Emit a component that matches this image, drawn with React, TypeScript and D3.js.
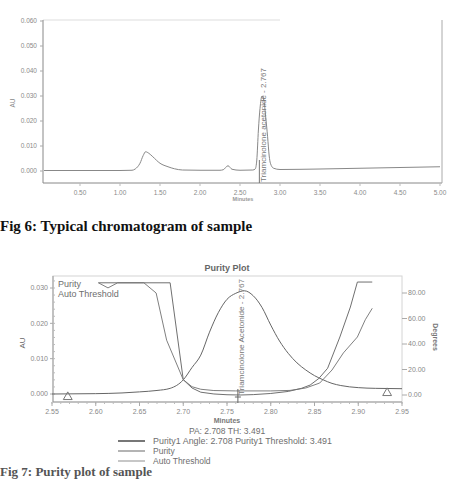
import * as d3 from "d3";

// Fig 6 - chromatogram (minutes vs AU)
const chromTimes = [0.05, 0.5, 1.0, 1.15, 1.19, 1.25, 1.29, 1.32, 1.36, 1.41, 1.5, 1.6, 1.68, 1.78, 2.0, 2.25, 2.29, 2.35, 2.4, 2.5, 2.66, 2.69, 2.71, 2.73, 2.75, 2.775, 2.8, 2.82, 2.845, 2.865, 2.88, 2.92, 3.0, 3.5, 4.0, 4.5, 5.0];
const chromAU = [0.0002, 0.0002, 0.0002, 0.0003, 0.0008, 0.0031, 0.0062, 0.0077, 0.0071, 0.0057, 0.0031, 0.0017, 0.0009, 0.0004, 0.0003, 0.0003, 0.0005, 0.0021, 0.0007, 0.0003, 0.0004, 0.0008, 0.0044, 0.0164, 0.025, 0.03, 0.028, 0.022, 0.0137, 0.006, 0.0031, 0.0011, 0.0006, 0.0008, 0.0011, 0.0014, 0.0017];
const chromYTicks = [0, 0.01, 0.02, 0.03, 0.04, 0.05, 0.06];
const chromXTicks = [0.5, 1.0, 1.5, 2.0, 2.5, 3.0, 3.5, 4.0, 4.5, 5.0];
const peakLabel = "Triamcinolone acetonide - 2.767";
const peakTime = 2.767;

// Fig 7 - purity plot
const purTimes = [2.55, 2.6, 2.63, 2.65, 2.67, 2.685, 2.7, 2.71, 2.72, 2.73, 2.74, 2.75, 2.76, 2.77, 2.78, 2.79, 2.8, 2.81, 2.82, 2.83, 2.84, 2.85, 2.86, 2.87, 2.88, 2.9, 2.92, 2.95];
const purAU = [0, 0.0001, 0.0003, 0.0006, 0.001, 0.0016, 0.004, 0.0075, 0.011, 0.0175, 0.023, 0.0268, 0.0285, 0.0292, 0.0278, 0.0245, 0.0195, 0.015, 0.0115, 0.0088, 0.0068, 0.0052, 0.004, 0.003, 0.0024, 0.0018, 0.0016, 0.0015];
const angleTimes = [2.603, 2.685, 2.7, 2.71, 2.72, 2.735, 2.75, 2.765, 2.78, 2.8, 2.82, 2.835, 2.845, 2.855, 2.865, 2.879, 2.891, 2.899, 2.916];
const angleDeg = [88, 88, 12, 5.5, 2.2, 0.8, 0.2, 0, 0.3, 1.2, 2.8, 5.2, 7.8, 13, 21, 45.5, 69, 88.6, 88.6];
const threshTimes = [2.603, 2.614, 2.625, 2.655, 2.669, 2.681, 2.7, 2.71, 2.72, 2.735, 2.76, 2.8, 2.822, 2.84, 2.856, 2.87, 2.883, 2.899, 2.908, 2.916];
const threshDeg = [88, 84, 88, 88, 80, 43, 12, 6.5, 4.5, 3.5, 3.2, 3.2, 3.6, 5.5, 9.4, 19.6, 33, 45.5, 59, 68];
const purXTicks = [2.55, 2.6, 2.65, 2.7, 2.75, 2.8, 2.85, 2.9, 2.95];
const purAUTicks = [0, 0.01, 0.02, 0.03];
const purDegTicks = [0, 20, 40, 60, 80];
const markerTimes = [2.568, 2.933];
const purPeakLabel = "Triamcinolone Acetonide - 2.767";
const legendItems = ["Purity1 Angle: 2.708 Purity1 Threshold: 3.491", "Purity", "Auto Threshold"];

const sans = "Liberation Sans, Arial, sans-serif";
const serif = "Liberation Serif, Times New Roman, serif";
const textGray = "#6e6e6e";

const Chromatogram = () => {
  const x = d3.scaleLinear().domain([0, 5]).range([40, 440]);
  const y = d3.scaleLinear().domain([0, 0.06]).range([171, 21]);
  const line = d3
    .line<number>()
    .x((d, i) => x(chromTimes[i]))
    .y((d) => y(d))
    .curve(d3.curveMonotoneX);
  const fmtY = d3.format(".3f");
  const fmtX = d3.format(".2f");
  const px = x(peakTime);

  return (
    <g fontFamily={sans}>
      <line x1={43} x2={280} y1={20} y2={20} stroke="#ddd" />
      <line x1={43} x2={43} y1={20} y2={183} stroke="#888" />
      <line x1={43} x2={442} y1={183} y2={183} stroke="#888" />
      <line x1={442} x2={442} y1={20} y2={183} stroke="#aaa" />
      {chromYTicks.map((t) => (
        <g key={t}>
          <line x1={40} x2={43} y1={y(t)} y2={y(t)} stroke="#aaa" />
          <text x={37} y={y(t)} dy="0.35em" textAnchor="end" fontSize={6.5} fill="#8a8a8a">
            {fmtY(t)}
          </text>
        </g>
      ))}
      {chromXTicks.map((t) => (
        <g key={t}>
          <line x1={x(t)} x2={x(t)} y1={183} y2={186} stroke="#bbb" />
          <text x={x(t)} y={195} textAnchor="middle" fontSize={6.5} fill="#8a8a8a">
            {fmtX(t)}
          </text>
        </g>
      ))}
      <text transform="translate(15,103) rotate(-90)" textAnchor="middle" fontSize={6.5} fill="#8a8a8a">
        AU
      </text>
      <text x={243} y={201} textAnchor="middle" fontSize={5.5} fontWeight="bold" fill="#999">
        Minutes
      </text>
      <path d={line(chromAU) || ""} fill="none" stroke="#888" strokeWidth={1} />
      <line x1={px - 2} x2={px - 2} y1={183} y2={160} stroke="#777" />
      <text
        transform={`translate(${px + 2},182) rotate(-90)`}
        dy="0.35em"
        fontSize={7.5}
        fill="#777"
        textLength={114}
        lengthAdjust="spacingAndGlyphs"
      >
        {peakLabel}
      </text>
    </g>
  );
};

const PurityPlot = () => {
  const x = d3.scaleLinear().domain([2.55, 2.95]).range([52, 402]);
  const yAU = d3.scaleLinear().domain([0, 0.03]).range([394, 288]);
  const yDeg = d3.scaleLinear().domain([0, 80]).range([395, 293]);
  const chromLine = d3
    .line<number>()
    .x((d, i) => x(purTimes[i]))
    .y((d) => yAU(d))
    .curve(d3.curveMonotoneX);
  const angleLine = d3
    .line<number>()
    .x((d, i) => x(angleTimes[i]))
    .y((d) => yDeg(d));
  const threshLine = d3
    .line<number>()
    .x((d, i) => x(threshTimes[i]))
    .y((d) => yDeg(d));
  const minorX = d3.range(0, 41).map((i) => 2.55 + i * 0.01);
  const minorY = d3.range(0, 17).map((i) => i * 0.002);
  const tri = d3.symbol().type(d3.symbolTriangle).size(34)() || "";
  const px = x(peakTime);

  return (
    <g fontFamily={sans}>
      <text x={227} y={271} textAnchor="middle" fontSize={9} fontWeight="bold" fill="#666">
        Purity Plot
      </text>
      <rect x={53} y={276} width={349} height={126} fill="none" stroke="#d4d4d4" />
      <line x1={53} x2={53} y1={276} y2={402} stroke="#999" />
      <line x1={53} x2={402} y1={402} y2={402} stroke="#999" />
      {minorY.map((t) => (
        <line key={t} x1={53} x2={55} y1={yAU(t)} y2={yAU(t)} stroke="#bbb" />
      ))}
      {minorX.map((t) => (
        <line key={t} x1={x(t)} x2={x(t)} y1={402} y2={404} stroke="#bbb" />
      ))}
      {purAUTicks.map((t) => (
        <g key={t}>
          <line x1={50} x2={53} y1={yAU(t)} y2={yAU(t)} stroke="#aaa" />
          <text x={48} y={yAU(t)} dy="0.35em" textAnchor="end" fontSize={7} fill="#888">
            {d3.format(".3f")(t)}
          </text>
        </g>
      ))}
      {purDegTicks.map((t) => (
        <g key={t}>
          <line x1={402} x2={407} y1={yDeg(t)} y2={yDeg(t)} stroke="#aaa" />
          <text x={408} y={yDeg(t)} dy="0.35em" fontSize={7} fill="#888">
            {d3.format(".2f")(t)}
          </text>
        </g>
      ))}
      {purXTicks.map((t) => (
        <g key={t}>
          <line x1={x(t)} x2={x(t)} y1={402} y2={406} stroke="#aaa" />
          <text x={x(t)} y={414} textAnchor="middle" fontSize={7} fill="#888">
            {d3.format(".2f")(t)}
          </text>
        </g>
      ))}
      <text transform="translate(25,343) rotate(-90)" textAnchor="middle" fontSize={8} fill="#666">
        AU
      </text>
      <text transform="translate(433,337) rotate(90)" textAnchor="middle" fontSize={7} fontWeight="bold" fill="#777">
        Degrees
      </text>
      <text x={227} y={423} textAnchor="middle" fontSize={7} fontWeight="bold" fill="#777">
        Minutes
      </text>

      <text x={58} y={287} fontSize={9} fill={textGray}>
        Purity
      </text>
      <text x={58} y={297} fontSize={9} fill={textGray}>
        Auto Threshold
      </text>

      <path d={chromLine(purAU) || ""} fill="none" stroke="#666" strokeWidth={1} />
      <path d={threshLine(threshDeg) || ""} fill="none" stroke="#808080" strokeWidth={1} />
      <path d={angleLine(angleDeg) || ""} fill="none" stroke="#707070" strokeWidth={1} />

      {markerTimes.map((t, i) => (
        <path
          key={t}
          d={tri}
          transform={`translate(${x(t)},${i === 0 ? 397 : 393})`}
          fill="none"
          stroke="#777"
        />
      ))}

      <line x1={px - 4} x2={px - 4} y1={389} y2={403} stroke="#666" />
      <line x1={px - 7} x2={px - 1} y1={397} y2={397} stroke="#666" />
      <text
        transform={`translate(${px - 1},395) rotate(-90)`}
        dy="0.35em"
        fontSize={8}
        fill="#777"
        textLength={116}
        lengthAdjust="spacingAndGlyphs"
      >
        {purPeakLabel}
      </text>

      <text x={227} y={434} textAnchor="middle" fontSize={8.5} fill={textGray}>
        PA: 2.708 TH: 3.491
      </text>
      {legendItems.map((label, i) => (
        <g key={label}>
          <line
            x1={118}
            x2={145}
            y1={441 + i * 10}
            y2={441 + i * 10}
            stroke={i === 0 ? "#555" : i === 1 ? "#777" : "#999"}
            strokeWidth={i === 0 ? 1.6 : 1.1}
          />
          <text
            x={153}
            y={444 + i * 10}
            fontSize={8.5}
            fill={textGray}
            textLength={i === 0 ? 179 : undefined}
            lengthAdjust="spacingAndGlyphs"
          >
            {label}
          </text>
        </g>
      ))}
    </g>
  );
};

const App = () => {
  return (
    <>
      <style>{`body{margin:0}`}</style>
      <svg width={452} height={480} style={{ display: "block", background: "#fff" }}>
        <Chromatogram />
        <text x={0} y={231} fontFamily={serif} fontSize={15} fontWeight="bold" fill="#111">
          Fig 6: Typical chromatogram of sample
        </text>
        <PurityPlot />
        <text x={0} y={476} fontFamily={serif} fontSize={13} fontWeight="bold" fill="#555">
          Fig 7: Purity plot of sample
        </text>
      </svg>
    </>
  );
};

export default App;
